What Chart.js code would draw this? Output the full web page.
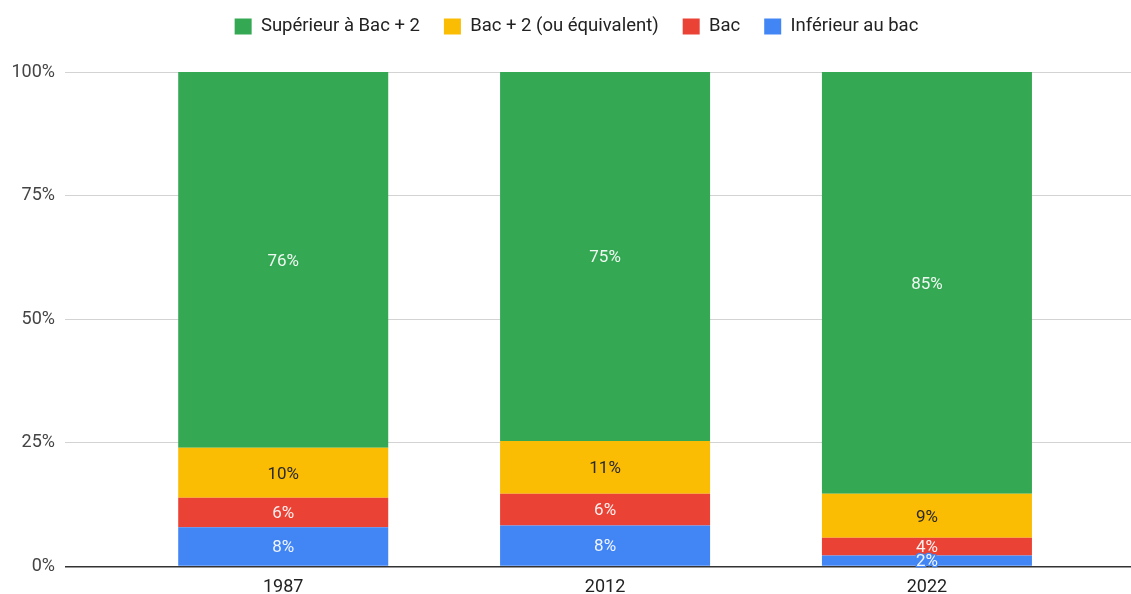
<!DOCTYPE html>
<html>
<head>
<meta charset="utf-8">
<script src="https://cdn.jsdelivr.net/npm/chart.js@4"></script>
<style>
  html, body { margin: 0; padding: 0; background: #fff; }
  #wrap { width: 1131px; height: 594px; position: relative; }
</style>
</head>
<body>
<div id="wrap"><canvas id="chart"></canvas></div>
<script>
// Years on the x axis
const years = ['1987', '2012', '2022'];

// Share of each education level (percent), bottom of the stack first
const inferieurBac = [7.95, 8.3, 2.2];
const bac = [5.95, 6.4, 3.6];
const bacPlus2 = [10.1, 10.7, 8.9];
const superieurBac2 = [76.0, 74.6, 85.3];

const yTicks = [0, 25, 50, 75, 100];

const FONT = 'Roboto';

// Turn a series into {x, y} points on the linear x axis
function toPoints(values) {
  return values.map((v, i) => ({ x: i, y: v }));
}

// Draw the percentage inside each bar segment
const segmentLabels = {
  id: 'segmentLabels',
  afterDatasetsDraw(chart) {
    const ctx = chart.ctx;
    ctx.save();
    ctx.font = `17px ${FONT}`;
    ctx.textAlign = 'center';
    ctx.textBaseline = 'middle';
    ctx.lineJoin = 'round';
    chart.data.datasets.forEach((ds, di) => {
      const meta = chart.getDatasetMeta(di);
      meta.data.forEach((bar, i) => {
        const p = bar.getProps(['x', 'y', 'base'], true);
        const text = Math.round(ds.data[i].y) + '%';
        const cy = (p.y + p.base) / 2 + 1.5;
        ctx.lineWidth = 3;
        ctx.strokeStyle = ds.backgroundColor;
        ctx.strokeText(text, p.x, cy);
        ctx.fillStyle = ds.labelColor;
        ctx.fillText(text, p.x, cy);
      });
    });
    ctx.restore();
  }
};

// Legend needs more room below it than its own padding gives,
// and sits a little right of the canvas centre
const legendSpace = {
  id: 'legendSpace',
  beforeInit(chart) {
    const fit = chart.legend.fit;
    chart.legend.fit = function() {
      fit.call(this);
      this.height = 78.75;
    };
  },
  afterLayout(chart) {
    chart.legend.left += 22;
  }
};

new Chart(document.getElementById('chart'), {
  type: 'bar',
  data: {
    datasets: [
      { label: 'Inférieur au bac', data: toPoints(inferieurBac), backgroundColor: '#4285f4', labelColor: 'rgba(255,255,255,0.92)' },
      { label: 'Bac', data: toPoints(bac), backgroundColor: '#ea4335', labelColor: 'rgba(255,255,255,0.92)' },
      { label: 'Bac + 2 (ou équivalent)', data: toPoints(bacPlus2), backgroundColor: '#fbbc04', labelColor: '#2a2a2a' },
      { label: 'Supérieur à Bac + 2', data: toPoints(superieurBac2), backgroundColor: '#34a853', labelColor: 'rgba(255,255,255,0.92)' }
    ]
  },
  options: {
    responsive: true,
    maintainAspectRatio: false,
    animation: false,
    barPercentage: 0.6525,
    categoryPercentage: 1,
    layout: { padding: { top: -6.75, left: 0, right: 0, bottom: 0 } },
    plugins: {
      legend: {
        position: 'top',
        reverse: true,
        labels: {
          boxWidth: 17,
          boxHeight: 16,
          padding: 24,
          color: '#222',
          font: { family: FONT, size: 18.5 }
        }
      },
      tooltip: { enabled: false }
    },
    scales: {
      x: {
        type: 'linear',
        stacked: true,
        offset: false,
        min: -0.678,
        max: 2.634,
        afterBuildTicks: (scale) => { scale.ticks = years.map((_, i) => ({ value: i })); },
        afterFit: (scale) => { scale.height = 27.5; },
        grid: { display: false },
        border: { display: false },
        ticks: {
          padding: 2,
          color: '#222',
          font: { family: FONT, size: 18 },
          callback: (v) => years[v]
        }
      },
      y: {
        stacked: true,
        min: 0,
        max: 100,
        afterBuildTicks: (scale) => { scale.ticks = yTicks.map(v => ({ value: v })); },
        afterFit: (scale) => { scale.width = 65; },
        border: { display: false },
        grid: {
          drawTicks: false,
          color: (c) => (c.tick && c.tick.value === 0 ? '#333' : '#d3d3d3'),
          lineWidth: (c) => (c.tick && c.tick.value === 0 ? 1.5 : 1)
        },
        ticks: {
          padding: 10,
          color: '#444',
          font: { family: FONT, size: 18 },
          callback: (v) => v + '%'
        }
      }
    }
  },
  plugins: [segmentLabels, legendSpace]
});
</script>
</body>
</html>
